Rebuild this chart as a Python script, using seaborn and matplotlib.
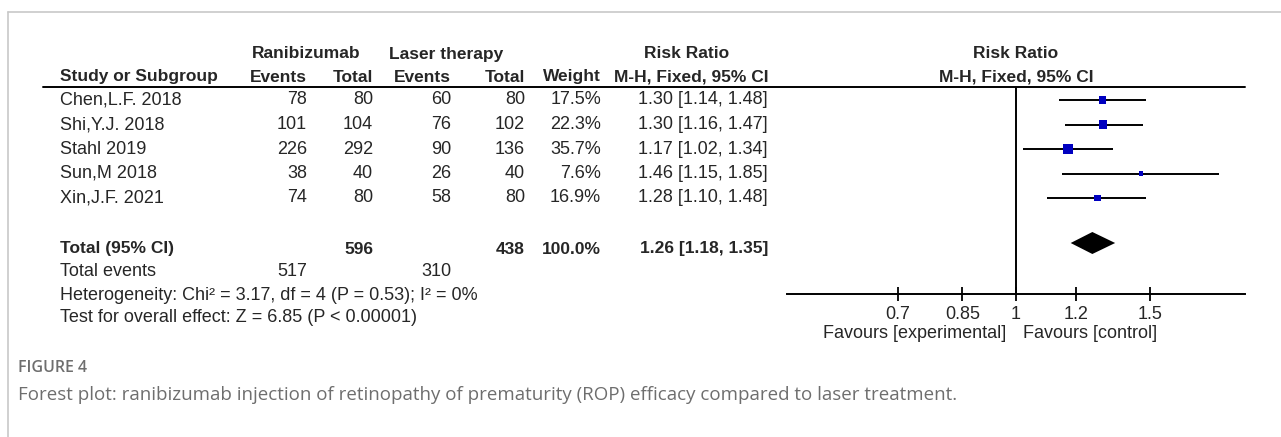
import matplotlib
matplotlib.use("Agg")
import matplotlib.pyplot as plt
import seaborn as sns

# ──────────────────────────────────────────────
# Data
# ──────────────────────────────────────────────
studies = ["Chen,L.F. 2018", "Shi,Y.J. 2018", "Stahl 2019", "Sun,M 2018", "Xin,J.F. 2021"]
ev_rani = [78, 101, 226, 38, 74]
n_rani = [80, 104, 292, 40, 80]
ev_laser = [60, 76, 90, 26, 58]
n_laser = [80, 102, 136, 40, 80]
weight = [17.5, 22.3, 35.7, 7.6, 16.9]
rr = [1.30, 1.30, 1.17, 1.46, 1.28]
ci_lo = [1.14, 1.16, 1.02, 1.15, 1.10]
ci_hi = [1.48, 1.47, 1.34, 1.85, 1.48]

total_n_rani, total_n_laser = 596, 438
total_ev_rani, total_ev_laser = 517, 310
total_rr, total_lo, total_hi = 1.26, 1.18, 1.35
heterogeneity = "Heterogeneity: Chi\u00b2 = 3.17, df = 4 (P = 0.53); I\u00b2 = 0%"
overall = "Test for overall effect: Z = 6.85 (P < 0.00001)"

xticks = [0.7, 0.85, 1, 1.2, 1.5]
xtick_labels = ["0.7", "0.85", "1", "1.2", "1.5"]

# ──────────────────────────────────────────────
# Layout (pixels)
# ──────────────────────────────────────────────
W, H = 1281, 437
ROW0, ROW_STEP = 100, 24.5
row_y = [ROW0 + i * ROW_STEP for i in range(len(studies))]
FS_HDR = 12.5
FS = 13
BLUE = "#0000C0"

sns.set_style("white")
plt.rcParams["font.family"] = ["Liberation Sans", "DejaVu Sans"]

fig = plt.figure(figsize=(W / 100, H / 100), dpi=100)
bg = fig.add_axes([0, 0, 1, 1])
bg.set_xlim(0, W)
bg.set_ylim(H, 0)
bg.axis("off")

# panel frame
bg.plot([8, W], [12, 12], color="#c8c8c8", lw=1.2)
bg.plot([8, 8], [12, H], color="#c8c8c8", lw=1.2)

# header
hdr = dict(fontsize=FS_HDR, fontweight="bold", va="center")
bg.text(306, 54, "Ranibizumab", ha="center", **hdr)
bg.text(446, 54, "Laser therapy", ha="center", **hdr)
bg.text(687, 54, "Risk Ratio", ha="center", **hdr)
bg.text(1016, 54, "Risk Ratio", ha="center", **hdr)
bg.text(60, 77, "Study or Subgroup", ha="left", **hdr)
col_x = [307, 373, 451, 525, 601, 768]
for x, lab in zip(col_x, ["Events", "Total", "Events", "Total", "Weight", "M-H, Fixed, 95% CI"]):
    bg.text(x, 77, lab, ha="right", **hdr)
bg.text(1016, 77, "M-H, Fixed, 95% CI", ha="center", **hdr)
bg.plot([43, 1245], [87, 87], color="black", lw=1.4)

# study rows
body = dict(fontsize=FS, va="center")
for i, y in enumerate(row_y):
    bg.text(60, y, studies[i], ha="left", **body)
    vals = [ev_rani[i], n_rani[i], ev_laser[i], n_laser[i], f"{weight[i]:.1f}%",
            f"{rr[i]:.2f} [{ci_lo[i]:.2f}, {ci_hi[i]:.2f}]"]
    for x, v in zip(col_x, vals):
        bg.text(x, y, str(v), ha="right", **body)

# totals
TOT_Y = 249
bold = dict(fontsize=FS_HDR, va="center", fontweight="bold")
bg.text(60, TOT_Y, "Total (95% CI)", ha="left", **bold)
bg.text(col_x[1], TOT_Y, str(total_n_rani), ha="right", **bold)
bg.text(col_x[3], TOT_Y, str(total_n_laser), ha="right", **bold)
bg.text(col_x[4], TOT_Y, "100.0%", ha="right", **bold)
bg.text(col_x[5], TOT_Y, f"{total_rr:.2f} [{total_lo:.2f}, {total_hi:.2f}]", ha="right", **bold)
bg.text(60, TOT_Y + 23, "Total events", ha="left", **body)
bg.text(col_x[0], TOT_Y + 23, str(total_ev_rani), ha="right", **body)
bg.text(col_x[2], TOT_Y + 23, str(total_ev_laser), ha="right", **body)
bg.text(60, TOT_Y + 46, heterogeneity, ha="left", **body)
bg.text(60, TOT_Y + 69, overall, ha="left", **body)

# ──────────────────────────────────────────────
# Forest panel
# ──────────────────────────────────────────────
AX_L, AX_R, AX_T, AX_B = 787, 1245, 87, 294
fax = fig.add_axes([AX_L / W, 1 - AX_B / H, (AX_R - AX_L) / W, (AX_B - AX_T) / H])
fax.set_xscale("log")
fax.set_xlim(0.5, 2)
fax.set_ylim(AX_B, AX_T)
fax.patch.set_alpha(0)

fax.hlines(row_y, ci_lo, ci_hi, color="black", lw=1.4, zorder=2)
sns.scatterplot(x=rr, y=row_y, size=weight, sizes=(7.6 * 1.5, 35.7 * 1.5),
                marker="s", color=BLUE, linewidth=0, legend=False, ax=fax, zorder=3)
d_y, d_h = 243, 11
fax.fill([total_lo, total_rr, total_hi, total_rr], [d_y, d_y - d_h, d_y, d_y + d_h],
         color="black", lw=0, zorder=3)
fax.axvline(1, color="black", lw=1.4, zorder=1)

for s in ["top", "left", "right"]:
    fax.spines[s].set_visible(False)
fax.spines["bottom"].set_color("black")
fax.spines["bottom"].set_linewidth(1.4)
fax.set_yticks([])
fax.set_xticks(xticks)
fax.set_xticklabels(xtick_labels)
fax.minorticks_off()
fax.tick_params(axis="x", direction="inout", length=9.5, width=1.3, pad=4,
                labelsize=FS, color="black", bottom=True)
fax.set_xlabel("")
fax.set_ylabel("")

bg.text(1006, 334, "Favours [experimental]", ha="right", **body)
bg.text(1023, 334, "Favours [control]", ha="left", **body)

# caption
cap = dict(family=["Open Sans", "DejaVu Sans"], color="#6e6e6e", va="center", ha="left")
bg.text(18, 368, "FIGURE 4", fontsize=11.5, fontweight="semibold", **cap)
bg.text(18, 395, "Forest plot: ranibizumab injection of retinopathy of prematurity (ROP) "
        "efficacy compared to laser treatment.", fontsize=13.5, **cap)

fig.savefig("out.png", dpi=100)
